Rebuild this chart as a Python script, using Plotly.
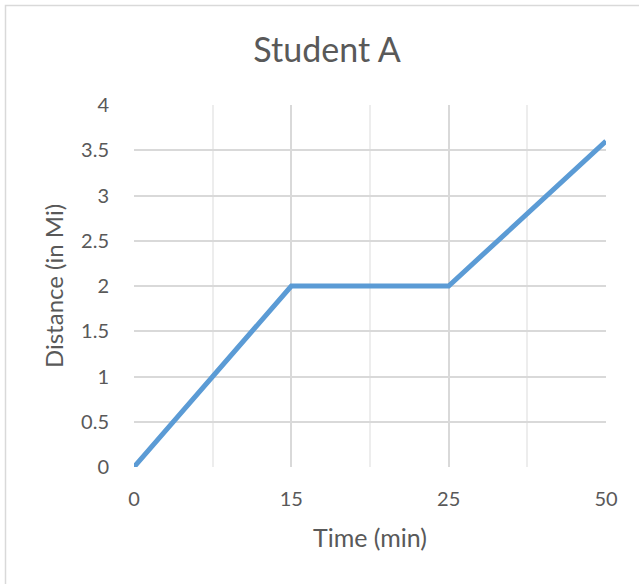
import plotly.graph_objects as go

categories = ["0", "15", "25", "50"]
distance = [0, 2, 2, 3.6]
y_ticks = [0, 0.5, 1, 1.5, 2, 2.5, 3, 3.5, 4]
y_labels = ["0", "0.5", "1", "1.5", "2", "2.5", "3", "3.5", "4"]

x_pos = list(range(len(categories)))
FONT = "Lato"
GREY = "#595959"

fig = go.Figure()
fig.add_trace(go.Scatter(
    x=x_pos, y=distance, mode="lines",
    line=dict(color="#5b9bd5", width=5),
    showlegend=False, hoverinfo="skip",
))

W, H = 639, 584
L, R, T, B = 134, 33, 105, 117
pw, ph = W - L - R, H - T - B

fig.update_layout(
    width=W, height=H,
    margin=dict(l=L, r=R, t=T, b=B, pad=0),
    paper_bgcolor="white", plot_bgcolor="white",
    title=dict(text="Student A", x=(327 - L) / pw, xref="paper", xanchor="center",
               y=1 - 50 / H, yanchor="middle",
               font=dict(family=FONT, size=34, color=GREY)),
    xaxis=dict(
        range=[0, len(categories) - 1], tickvals=x_pos, ticktext=categories,
        showgrid=True, gridcolor="#d9d9d9", gridwidth=1.5,
        minor=dict(dtick=0.5, tick0=0, showgrid=True, gridcolor="#ededed", gridwidth=1.5,
                   ticks=""),
        zeroline=False, showline=False, ticks="outside", ticklen=14, tickcolor="rgba(0,0,0,0)",
        tickfont=dict(family=FONT, size=20, color=GREY),
        title=dict(text="Time (min)", font=dict(family=FONT, size=25, color=GREY), standoff=20),
        fixedrange=True,
    ),
    yaxis=dict(
        range=[0, 4], tickvals=y_ticks, ticktext=y_labels,
        showgrid=True, gridcolor="#d9d9d9", gridwidth=1.5,
        zeroline=False, showline=False, ticks="outside", ticklen=20, tickcolor="rgba(0,0,0,0)",
        tickfont=dict(family=FONT, size=20, color=GREY),
        title=dict(text="Distance (in Mi)", font=dict(family=FONT, size=24, color=GREY), standoff=10),
        fixedrange=True,
    ),
    shapes=[dict(type="rect", xref="paper", yref="paper",
                 x0=(5.5 - L) / pw, x1=(W + 5 - L) / pw,
                 y0=1 - (H + 5 - T) / ph, y1=1 + (T - 5.5) / ph,
                 line=dict(color="#d9d9d9", width=1.5), fillcolor="rgba(0,0,0,0)", layer="below")],
)

fig.write_html("out.html", config={"displayModeBar": False},
               post_script="document.body.style.margin='0';")
